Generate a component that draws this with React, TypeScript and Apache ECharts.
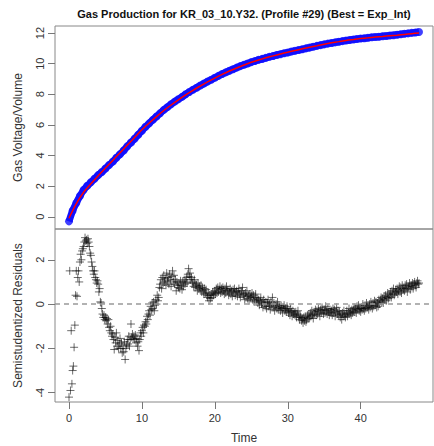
import React, { useEffect, useRef } from "react";
import * as echarts from "echarts";

const TITLE = "Gas Production for KR_03_10.Y32. (Profile #29) (Best = Exp_Int)";
const Y_TOP_NAME = "Gas Voltage/Volume";
const Y_BOTTOM_NAME = "Semistudentized Residuals";
const X_NAME = "Time";

const X_TICKS = [0, 10, 20, 30, 40];
const Y_TOP_TICKS = [0, 2, 4, 6, 8, 10, 12];
const Y_BOTTOM_TICKS = [-4, -2, 0, 2];

// observed gas volume, every 0.5 time units from 0 to 48
const OBS_STEP = 0.5;
const OBSERVED = [
  -0.3, 0.4, 0.9, 1.35, 1.75, 2.02, 2.25, 2.48, 2.72, 2.92,
  3.15, 3.38, 3.6, 3.85, 4.08, 4.33, 4.6, 4.85, 5.1, 5.36,
  5.62, 5.88, 6.1, 6.33, 6.55, 6.76, 6.98, 7.16, 7.35, 7.52,
  7.68, 7.83, 8.0, 8.15, 8.3, 8.43, 8.57, 8.7, 8.83, 8.95,
  9.08, 9.2, 9.32, 9.43, 9.54, 9.64, 9.74, 9.84, 9.93, 10.01,
  10.1, 10.17, 10.25, 10.31, 10.38, 10.45, 10.5, 10.57, 10.62, 10.68,
  10.73, 10.79, 10.84, 10.89, 10.94, 11.0, 11.05, 11.11, 11.16, 11.21,
  11.26, 11.31, 11.35, 11.39, 11.43, 11.47, 11.51, 11.55, 11.58, 11.61,
  11.64, 11.66, 11.69, 11.72, 11.74, 11.76, 11.79, 11.81, 11.84, 11.86,
  11.89, 11.92, 11.95, 11.98, 12.01, 12.04, 12.07,
];

// fitted (Exp_Int) curve, every 1 time unit from 0 to 48
const FIT_STEP = 1;
const FITTED = [
  -0.1, 0.85, 1.6, 2.15, 2.68, 3.18, 3.68, 4.18, 4.68, 5.17,
  5.68, 6.12, 6.54, 6.94, 7.3, 7.64, 7.96, 8.26, 8.54, 8.81,
  9.06, 9.3, 9.52, 9.72, 9.91, 10.09, 10.24, 10.38, 10.51, 10.63,
  10.75, 10.86, 10.97, 11.07, 11.17, 11.27, 11.36, 11.44, 11.52, 11.58,
  11.64, 11.69, 11.74, 11.78, 11.82, 11.86, 11.91, 11.96, 12.01,
];

// semistudentized residuals, every 0.1 time units from 0 to 48
const RES_STEP = 0.1;
const RESIDUALS = [
  -4.2, 1.5, -3.9, -1.2, -3.6, -3.0, -2.8, -1.95, -0.95, 0.4,
  1.5, 0.35, 1.2, 1.5, 1.0, 1.9, 2.25, 2.0, 2.4, 2.5,
  2.6, 2.8, 3.0, 2.85, 2.9, 2.75, 2.95, 2.8, 2.6, 2.3,
  2.2, 1.9, 1.7, 1.5, 1.35, 1.5, 1.2, 1.1, 0.95, 1.05,
  0.9, 0.55, 0.7, 0.1, 0.05, -0.2, -0.45, -0.6, -0.5, -0.7,
  -0.6, -0.75, -0.65, -0.9, -0.7, -1.05, -1.2, -1.0, -1.3, -1.45,
  -1.35, -1.6, -2.05, -1.5, -1.75, -1.3, -1.9, -1.65, -2.0, -1.8,
  -1.55, -2.0, -1.75, -2.2, -1.9, -2.15, -1.7, -2.5, -2.0, -1.85,
  -1.6, -1.8, -1.45, -1.9, -1.6, -0.9, -1.5, -1.35, -1.55, -1.45,
  -1.6, -1.4, -1.75, -1.55, -1.9, -1.7, -2.1, -1.6, -1.3, -1.45,
  -1.2, -1.05, -1.3, -0.95, -1.0, -0.8, -0.9, -0.55, -0.7, -0.45,
  -0.3, -0.5, -0.1, -0.25, 0.05, -0.2, 0.1, -0.3, -0.05, 0.2,
  0.0, 0.4, 0.15, 0.3, 0.75, 0.9, 1.1, 0.7, 1.2, 0.95,
  1.3, 1.0, 1.15, 0.85, 1.4, 1.05, 1.2, 0.9, 1.35, 1.1,
  0.8, 1.25, 1.5, 1.0, 1.3, 0.9, 1.1, 0.6, 1.0, 0.85,
  0.75, 0.95, 0.7, 1.05, 0.85, 0.65, 1.0, 0.8, 1.1, 0.9,
  1.0, 1.2, 0.95, 1.35, 1.6, 1.25, 1.4, 1.1, 1.2, 0.95,
  1.0, 0.8, 1.1, 0.75, 0.9, 0.85, 0.6, 0.95, 0.7, 0.8,
  0.65, 0.85, 0.55, 0.75, 0.6, 0.45, 0.7, 0.5, 0.65, 0.4,
  0.3, 0.5, 0.15, 0.4, 0.25, 0.45, 0.3, 0.55, 0.4, 0.5,
  0.6, 0.45, 0.7, 0.5, 0.75, 0.55, 0.65, 0.8, 0.5, 0.7,
  0.55, 0.75, 0.6, 0.45, 0.7, 0.5, 0.8, 0.6, 0.65, 0.4,
  0.55, 0.7, 0.45, 0.6, 0.35, 0.65, 0.5, 0.7, 0.4, 0.55,
  0.6, 0.35, 0.55, 0.7, 0.45, 0.3, 0.6, 0.5, 0.75, 0.4,
  0.45, 0.2, 0.5, 0.35, 0.6, 0.25, 0.4, 0.15, 0.45, 0.3,
  0.35, 0.5, 0.2, 0.4, 0.1, 0.3, 0.45, 0.15, 0.25, 0.05,
  0.2, -0.05, 0.15, 0.3, 0.0, 0.1, -0.15, 0.2, 0.05, -0.1,
  0.1, -0.2, 0.05, 0.2, -0.1, 0.0, -0.25, 0.1, -0.05, 0.3,
  -0.15, 0.05, -0.3, -0.1, 0.0, -0.2, 0.1, -0.25, -0.05, -0.15,
  -0.3, -0.1, -0.2, -0.4, -0.15, -0.05, -0.3, -0.2, -0.35, -0.1,
  -0.25, -0.4, -0.3, -0.5, -0.2, -0.35, -0.55, -0.3, -0.45, -0.4,
  -0.5, -0.35, -0.6, -0.45, -0.3, -0.55, -0.7, -0.5, -0.6, -0.75,
  -0.65, -0.85, -0.6, -0.75, -0.55, -0.8, -0.7, -0.5, -0.65, -0.45,
  -0.6, -0.4, -0.55, -0.3, -0.5, -0.65, -0.35, -0.45, -0.25, -0.5,
  -0.3, -0.45, -0.2, -0.35, -0.55, -0.25, -0.4, -0.15, -0.3, -0.45,
  -0.25, -0.4, -0.1, -0.3, -0.45, -0.2, -0.35, -0.5, -0.25, -0.4,
  -0.3, -0.5, -0.2, -0.4, -0.25, -0.55, -0.35, -0.15, -0.45, -0.3,
  -0.5, -0.35, -0.6, -0.45, -0.7, -0.4, -0.55, -0.3, -0.5, -0.6,
  -0.45, -0.3, -0.55, -0.4, -0.2, -0.45, -0.35, -0.5, -0.25, -0.4,
  -0.3, -0.15, -0.35, -0.2, -0.4, -0.1, -0.25, -0.05, -0.3, -0.2,
  -0.35, -0.15, -0.25, 0.0, -0.2, -0.3, -0.05, -0.2, 0.05, -0.15,
  -0.1, -0.25, 0.0, -0.15, 0.1, -0.05, -0.2, 0.05, -0.1, 0.15,
  -0.05, 0.1, -0.15, 0.05, -0.1, 0.2, 0.0, 0.15, 0.3, 0.1,
  0.25, 0.05, 0.35, 0.2, 0.4, 0.15, 0.3, 0.5, 0.25, 0.45,
  0.35, 0.55, 0.3, 0.6, 0.45, 0.7, 0.4, 0.5, 0.65, 0.55,
  0.7, 0.45, 0.6, 0.8, 0.55, 0.75, 0.5, 0.85, 0.65, 0.7,
  0.6, 0.85, 0.7, 0.9, 0.55, 0.8, 0.75, 0.95, 0.65, 0.85,
  0.8, 0.95, 0.7, 0.9, 1.0, 0.85, 0.75, 0.95, 1.05, 0.9,
  0.95,
];

const toPairs = (vals: number[], step: number) =>
  vals.map((v, i) => [Math.round(i * step * 100) / 100, v]);

const FONT = "Liberation Sans, Arial, sans-serif";
const TEXT = "#333";
const AXIS_GRAY = "#777";
const BLUE = "#1010ff";

export default function App() {
  const ref = useRef<HTMLDivElement>(null);

  useEffect(() => {
    if (!ref.current) return;
    const chart = echarts.init(ref.current, undefined, { renderer: "svg" });

    const xCommon = {
      type: "value" as const,
      min: -1.92,
      max: 49.92,
      splitLine: { show: false },
      axisLine: { show: false, onZero: false },
    };
    const yLabel = (ticks: number[]) => ({
      show: true,
      rotate: 90,
      margin: 10,
      color: TEXT,
      fontFamily: FONT,
      fontSize: 11,
      customValues: ticks,
    });
    const yTick = (ticks: number[]) => ({
      show: true,
      inside: false,
      length: 7,
      lineStyle: { color: AXIS_GRAY },
      customValues: ticks,
    });

    const obsPairs = toPairs(OBSERVED, OBS_STEP);

    chart.setOption({
      animation: false,
      backgroundColor: "#fff",
      title: {
        text: TITLE,
        left: 244,
        top: 8,
        padding: 0,
        textAlign: "center",
        textStyle: { fontFamily: FONT, fontSize: 11, fontWeight: "bold", color: "#111" },
      },
      grid: [
        { left: 55, top: 26, width: 378, height: 203, show: true, borderColor: "#888", borderWidth: 1, backgroundColor: "transparent" },
        { left: 55, top: 229, width: 378, height: 173, show: true, borderColor: "#888", borderWidth: 1, backgroundColor: "transparent" },
      ],
      xAxis: [
        { ...xCommon, gridIndex: 0, position: "bottom", axisLabel: { show: false }, axisTick: { show: false } },
        {
          ...xCommon,
          gridIndex: 1,
          position: "bottom",
          name: X_NAME,
          nameLocation: "middle",
          nameGap: 30,
          nameTextStyle: { fontFamily: FONT, fontSize: 12, color: TEXT },
          axisLabel: { show: true, margin: 10, color: TEXT, fontFamily: FONT, fontSize: 11, customValues: X_TICKS },
          axisTick: { show: true, inside: false, length: 7, lineStyle: { color: AXIS_GRAY }, customValues: X_TICKS },
        },
      ],
      yAxis: [
        {
          type: "value",
          gridIndex: 0,
          position: "left",
          min: -0.8,
          max: 12.46,
          splitLine: { show: false },
          axisLine: { show: false, onZero: false },
          name: Y_TOP_NAME,
          nameLocation: "middle",
          nameGap: 31,
          nameTextStyle: { fontFamily: FONT, fontSize: 12, color: TEXT },
          axisLabel: yLabel(Y_TOP_TICKS),
          axisTick: yTick(Y_TOP_TICKS),
        },
        {
          type: "value",
          gridIndex: 1,
          position: "left",
          min: -4.42,
          max: 3.39,
          splitLine: { show: false },
          axisLine: { show: false, onZero: false },
          name: Y_BOTTOM_NAME,
          nameLocation: "middle",
          nameGap: 31,
          nameTextStyle: { fontFamily: FONT, fontSize: 12, color: TEXT },
          axisLabel: yLabel(Y_BOTTOM_TICKS),
          axisTick: yTick(Y_BOTTOM_TICKS),
        },
      ],
      series: [
        {
          type: "line",
          name: "Observed band",
          xAxisIndex: 0,
          yAxisIndex: 0,
          showSymbol: false,
          symbol: "none",
          smooth: 0.2,
          lineStyle: { color: BLUE, width: 7 },
          data: obsPairs,
          z: 1,
        },
        {
          type: "scatter",
          name: "Observed",
          xAxisIndex: 0,
          yAxisIndex: 0,
          symbol: "circle",
          symbolSize: 8,
          itemStyle: { color: BLUE },
          data: obsPairs,
          z: 2,
        },
        {
          type: "line",
          name: "Fitted",
          xAxisIndex: 0,
          yAxisIndex: 0,
          smooth: 0.3,
          showSymbol: false,
          symbol: "none",
          lineStyle: { color: "#ff0000", width: 1.5 },
          data: toPairs(FITTED, FIT_STEP),
          z: 3,
        },
        {
          type: "scatter",
          name: "Residuals",
          xAxisIndex: 1,
          yAxisIndex: 1,
          symbol: "path://M4,0L4,8M0,4L8,4",
          symbolSize: 8,
          itemStyle: { color: "rgba(0,0,0,0)", borderColor: "rgba(0,0,0,0.72)", borderWidth: 1 },
          data: toPairs(RESIDUALS, RES_STEP),
          markLine: {
            silent: true,
            symbol: "none",
            label: { show: false },
            lineStyle: { color: "#999", type: [5, 4], width: 1.5 },
            data: [{ yAxis: 0 }],
          },
        },
      ],
    });

    return () => chart.dispose();
  }, []);

  return (
    <div
      ref={ref}
      style={{ position: "fixed", left: 0, top: 0, width: 434, height: 446, background: "#fff" }}
    />
  );
}
